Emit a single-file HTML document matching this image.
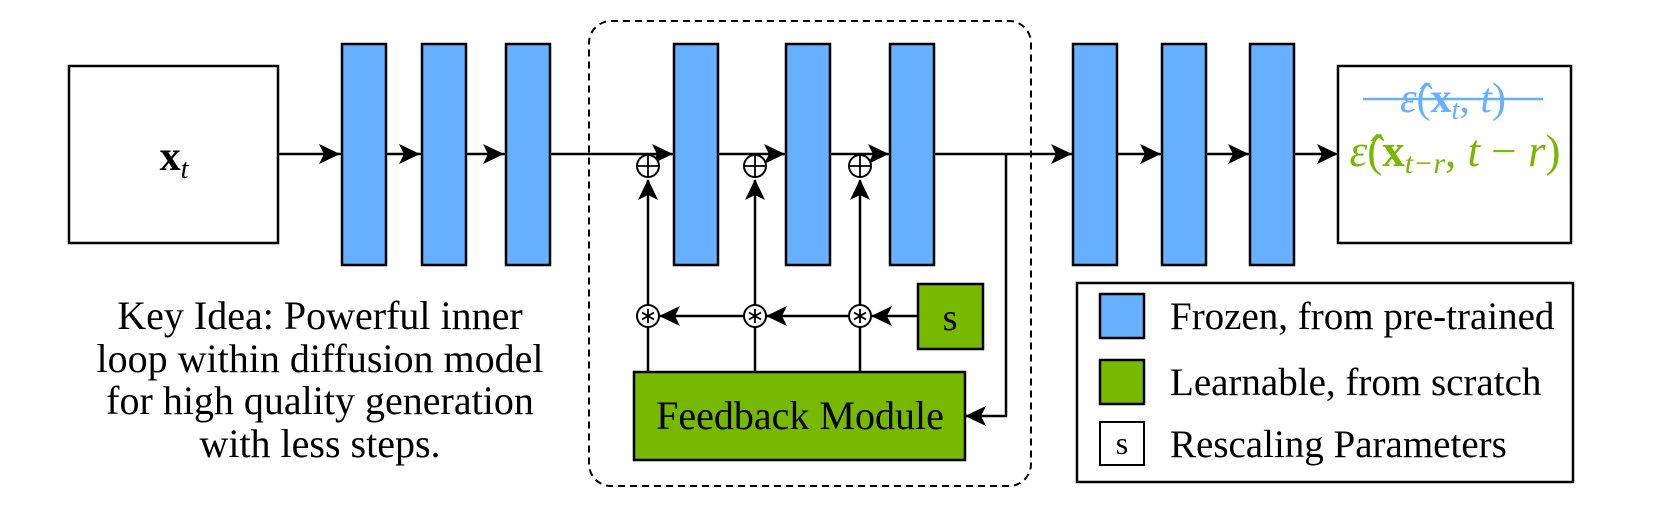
<!DOCTYPE html>
<html><head><meta charset="utf-8"><style>
html,body{margin:0;padding:0;background:#fff;}
svg{display:block}
text{font-family:"Liberation Serif",serif;}
</style></head><body>
<svg width="1661" height="510" viewBox="0 0 1661 510" xmlns="http://www.w3.org/2000/svg">
<g stroke="#000" stroke-width="2.5" fill="none">
<rect x="589" y="21" width="442" height="465" rx="22" stroke-dasharray="7,5" stroke-width="2"/>
<rect x="69" y="66" width="209" height="177" fill="#fff"/>
<rect x="1338" y="66" width="233" height="177" fill="#fff"/>
<line x1="278" y1="154" x2="1336" y2="154"/>
<polyline points="1006,154 1006,416 966,416"/>
<line x1="648" y1="371" x2="648" y2="180"/>
<line x1="755" y1="371" x2="755" y2="180"/>
<line x1="860" y1="371" x2="860" y2="180"/>
<line x1="918" y1="316" x2="659" y2="316"/>
</g>
<g fill="#000">
<path d="M340,154 l-21,-10 l5,10 l-5,10 z"/>
<path d="M420,154 l-21,-10 l5,10 l-5,10 z"/>
<path d="M504,154 l-21,-10 l5,10 l-5,10 z"/>
<path d="M673,154 l-21,-10 l5,10 l-5,10 z"/>
<path d="M785,154 l-21,-10 l5,10 l-5,10 z"/>
<path d="M889,154 l-21,-10 l5,10 l-5,10 z"/>
<path d="M1072,154 l-21,-10 l5,10 l-5,10 z"/>
<path d="M1161,154 l-21,-10 l5,10 l-5,10 z"/>
<path d="M1249,154 l-21,-10 l5,10 l-5,10 z"/>
<path d="M1338,154 l-21,-10 l5,10 l-5,10 z"/>
<path d="M648,179 l-10,21 l10,-5 l10,5 z"/>
<path d="M755,179 l-10,21 l10,-5 l10,5 z"/>
<path d="M860,179 l-10,21 l10,-5 l10,5 z"/>
<path d="M659,316 l21,-10 l-5,10 l5,10 z"/>
<path d="M766,316 l21,-10 l-5,10 l5,10 z"/>
<path d="M871,316 l21,-10 l-5,10 l5,10 z"/>
<path d="M965,416 l21,-10 l-5,10 l5,10 z"/>
</g>
<g fill="#66b0ff" stroke="#000" stroke-width="2.5">
<rect x="342" y="44" width="44" height="221"/>
<rect x="422" y="44" width="44" height="221"/>
<rect x="506" y="44" width="44" height="221"/>
<rect x="674" y="44" width="44" height="221"/>
<rect x="786" y="44" width="44" height="221"/>
<rect x="890" y="44" width="44" height="221"/>
<rect x="1073" y="44" width="44" height="221"/>
<rect x="1162" y="44" width="44" height="221"/>
<rect x="1250" y="44" width="44" height="221"/>
</g>
<g fill="#77b800" stroke="#000" stroke-width="2.5">
<rect x="918" y="284" width="65" height="65"/>
<rect x="634" y="372" width="331" height="88"/>
</g>
<g stroke="#000" stroke-width="2" fill="#fff">
<circle cx="648" cy="166" r="11"/>
<circle cx="755" cy="166" r="11"/>
<circle cx="860" cy="166" r="11"/>
<circle cx="648" cy="316" r="11"/>
<circle cx="755" cy="316" r="11"/>
<circle cx="860" cy="316" r="11"/>
</g>
<g stroke="#000" stroke-width="1.8">
<path d="M637,166 h22 M648,155 v22"/>
<path d="M744,166 h22 M755,155 v22"/>
<path d="M849,166 h22 M860,155 v22"/>
<path d="M648,309 v14 M642,312.5 l12,7 M642,319.5 l12,-7"/>
<path d="M755,309 v14 M749,312.5 l12,7 M749,319.5 l12,-7"/>
<path d="M860,309 v14 M854,312.5 l12,7 M854,319.5 l12,-7"/>
</g>
<text x="950" y="330" font-size="38" text-anchor="middle">s</text>
<text x="800" y="429" font-size="40" text-anchor="middle">Feedback Module</text>
<text x="174" y="170" font-size="42" font-weight="bold" text-anchor="middle">x<tspan font-size="28" font-style="italic" font-weight="normal" dy="8">t</tspan></text>
<g font-size="40" text-anchor="middle">
<text x="320" y="329">Key Idea: Powerful inner</text>
<text x="320" y="372">loop within diffusion model</text>
<text x="320" y="414">for high quality generation</text>
<text x="320" y="457">with less steps.</text>
</g>
<text x="1453" y="112" font-size="42" fill="#66b0ff" text-anchor="middle" font-style="italic">ε̂<tspan font-style="normal">(</tspan><tspan font-weight="bold" font-style="normal">x</tspan><tspan font-size="28" dy="7">t</tspan><tspan dy="-7" font-style="normal">, </tspan>t<tspan font-style="normal">)</tspan></text>
<line x1="1363" y1="99" x2="1543" y2="99" stroke="#66b0ff" stroke-width="2.5"/>
<text x="1455" y="166" font-size="45" fill="#77b800" text-anchor="middle" font-style="italic">ε̂<tspan font-style="normal">(</tspan><tspan font-weight="bold" font-style="normal">x</tspan><tspan font-size="30" dy="7">t−r</tspan><tspan dy="-7" font-style="normal">, </tspan>t <tspan font-style="normal">−</tspan> r<tspan font-style="normal">)</tspan></text>
<rect x="1077" y="283" width="496" height="199" fill="none" stroke="#000" stroke-width="2.5"/>
<rect x="1100" y="294" width="44" height="44" fill="#66b0ff" stroke="#000" stroke-width="2.5"/>
<rect x="1100" y="360" width="44" height="44" fill="#77b800" stroke="#000" stroke-width="2.5"/>
<rect x="1100" y="422" width="44" height="43" fill="#fff" stroke="#000" stroke-width="2"/>
<text x="1122" y="454" font-size="32" text-anchor="middle">s</text>
<g font-size="39">
<text x="1170" y="329">Frozen, from pre-trained</text>
<text x="1170" y="395">Learnable, from scratch</text>
<text x="1170" y="457">Rescaling Parameters</text>
</g>
</svg>
</body></html>
